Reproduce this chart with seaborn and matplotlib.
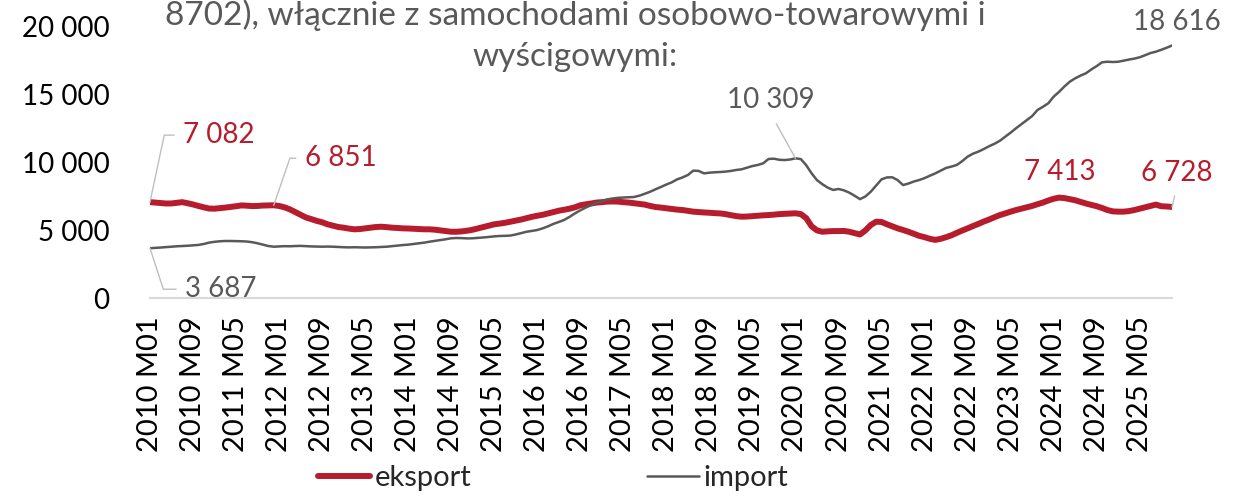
"""Eksport i import samochodów osobowych - miesięcznie, 2010-2025."""

import matplotlib

matplotlib.use("Agg")
import matplotlib.ticker as mticker
import pandas as pd
import seaborn as sns
from matplotlib import pyplot as plt

RED = "#B71C2C"
GREY = "#595959"
LEADER = "#BFBFBF"
AXIS = "#D9D9D9"

TICK_LABELS = [
    "2010 M01", "2010 M09", "2011 M05", "2012 M01", "2012 M09", "2013 M05",
    "2014 M01", "2014 M09", "2015 M05", "2016 M01", "2016 M09", "2017 M05",
    "2018 M01", "2018 M09", "2019 M05", "2020 M01", "2020 M09", "2021 M05",
    "2022 M01", "2022 M09", "2023 M05", "2024 M01", "2024 M09", "2025 M05",
]

# monthly values, 2010 M01 .. 2025 M11
EKSPORT = [
    7082, 7050, 7010, 6980, 6985, 7030, 7080, 7000, 6910, 6800, 6700, 6610,
    6600, 6640, 6680, 6730, 6780, 6840, 6820, 6790, 6800, 6830, 6840, 6851,
    6800, 6700, 6550, 6350, 6150, 5950, 5830, 5700, 5600, 5450, 5350, 5250,
    5200, 5130, 5080, 5100, 5150, 5200, 5250, 5270, 5240, 5200, 5180, 5150,
    5140, 5120, 5100, 5080, 5080, 5050, 5000, 4950, 4900, 4900, 4930, 4980,
    5050, 5150, 5250, 5350, 5450, 5500, 5560, 5640, 5720, 5800, 5900, 6000,
    6080, 6150, 6250, 6350, 6450, 6520, 6600, 6700, 6850, 6920, 6980, 7050,
    7080, 7120, 7130, 7120, 7080, 7050, 7000, 6950, 6900, 6800, 6720, 6680,
    6630, 6580, 6530, 6500, 6440, 6380, 6350, 6320, 6300, 6270, 6250, 6200,
    6120, 6050, 6010, 6020, 6050, 6080, 6110, 6130, 6160, 6200, 6220, 6240,
    6260, 6200, 5900, 5300, 5000, 4900, 4930, 4950, 4950, 4960, 4900, 4800,
    4700, 5000, 5400, 5640, 5620, 5450, 5300, 5150, 5030, 4900, 4750, 4600,
    4500, 4380, 4300, 4380, 4500, 4640, 4820, 4990, 5150, 5320, 5480, 5650,
    5800, 5970, 6130, 6250, 6380, 6500, 6600, 6700, 6800, 6930, 7050, 7200,
    7330, 7413, 7380, 7300, 7220, 7100, 6980, 6880, 6780, 6650, 6500, 6400,
    6380, 6380, 6420, 6500, 6600, 6700, 6800, 6900, 6780, 6760, 6728,
]

IMPORT = [
    3687, 3710, 3740, 3770, 3800, 3830, 3850, 3870, 3900, 3930, 4000, 4100,
    4160, 4200, 4220, 4220, 4210, 4200, 4180, 4130, 4050, 3950, 3850, 3800,
    3820, 3840, 3830, 3850, 3860, 3840, 3820, 3810, 3800, 3810, 3800, 3780,
    3760, 3750, 3760, 3750, 3740, 3750, 3760, 3780, 3800, 3840, 3880, 3920,
    3950, 4000, 4050, 4100, 4170, 4230, 4290, 4350, 4420, 4440, 4430, 4410,
    4420, 4450, 4480, 4520, 4560, 4590, 4600, 4620, 4700, 4800, 4900, 4960,
    5030, 5150, 5300, 5480, 5620, 5770, 6000, 6250, 6480, 6680, 6860, 7020,
    7150, 7280, 7350, 7400, 7420, 7440, 7460, 7560, 7700, 7850, 8030, 8200,
    8380, 8540, 8760, 8900, 9080, 9400, 9380, 9200, 9250, 9280, 9300, 9330,
    9380, 9450, 9500, 9620, 9740, 9820, 9940, 10260, 10280, 10200, 10180, 10220,
    10309, 10250, 9800, 9200, 8700, 8400, 8150, 7980, 8050, 7950, 7780, 7550,
    7300, 7500, 7850, 8300, 8760, 8900, 8910, 8700, 8340, 8450, 8600, 8710,
    8850, 9030, 9200, 9400, 9600, 9700, 9820, 10100, 10430, 10650, 10800, 10990,
    11200, 11380, 11600, 11900, 12200, 12520, 12820, 13120, 13420, 13870, 14100, 14360,
    14850, 15200, 15600, 15950, 16200, 16400, 16570, 16850, 17100, 17380, 17420, 17400,
    17420, 17500, 17580, 17650, 17750, 17900, 18060, 18160, 18300, 18450, 18616,
]

TITLE_LINES = ["8702), włącznie z samochodami osobowo-towarowymi i", "wyścigowymi:"]


def fmt(v, _pos=None):
    return f"{v:,.0f}".replace(",", " ")


def data_label(ax, series, i, dx, dy, color, ha="left", conn=None, relpos=(0, 0.5), shrink=4):
    arrow = None
    if conn is not None:
        arrow = dict(arrowstyle="-", color=LEADER, lw=1.0, connectionstyle=conn,
                     relpos=relpos, shrinkA=shrink, shrinkB=0)
    ax.annotate(fmt(series[i]), xy=(i, series[i]), xytext=(dx, dy),
                textcoords="offset pixels", ha=ha, va="center", fontsize=20,
                color=color, arrowprops=arrow)


sns.set_theme(style="white")
plt.rcParams["font.family"] = ["Lato", "DejaVu Sans"]

df = pd.DataFrame({"idx": range(len(EKSPORT)), "eksport": EKSPORT, "import": IMPORT})

W, H = 1245, 496
fig = plt.figure(figsize=(W / 100, H / 100), dpi=100)
fig.patch.set_facecolor("white")
ax = fig.add_axes([150 / W, 1 - 298.3 / H, (1172 - 150) / W, (298.3 - 26.7) / H])

sns.lineplot(data=df, x="idx", y="eksport", color=RED, linewidth=4.3, ax=ax,
             label="eksport", solid_capstyle="round")
sns.lineplot(data=df, x="idx", y="import", color=GREY, linewidth=1.8, ax=ax,
             label="import", solid_capstyle="round")

ax.set_xlim(0, len(EKSPORT) - 1)
ax.set_ylim(0, 20000)
ax.set_yticks(range(0, 20001, 5000))
ax.yaxis.set_major_formatter(mticker.FuncFormatter(fmt))
ax.set_xticks(range(0, 8 * len(TICK_LABELS), 8))
ax.set_xticklabels(TICK_LABELS, rotation=90, va="top", ha="center")
ax.set_xlabel("")
ax.set_ylabel("")
ax.tick_params(axis="both", length=0, labelsize=20, colors="black")
ax.tick_params(axis="x", labelsize=21, pad=13)
ax.tick_params(axis="y", pad=29)
ax.grid(False)
for side in ("top", "right", "left"):
    ax.spines[side].set_visible(False)
ax.spines["bottom"].set_color(AXIS)
ax.spines["bottom"].set_linewidth(1.5)

# data labels
data_label(ax, EKSPORT, 0, 33, 67, RED, conn="angle,angleA=0,angleB=78,rad=0")
data_label(ax, IMPORT, 0, 35, -41, GREY, conn="angle,angleA=0,angleB=108,rad=0")
data_label(ax, EKSPORT, 23, 31, 47, RED, conn="angle,angleA=0,angleB=71,rad=0")
data_label(ax, IMPORT, 120, -25, 58, GREY, ha="center", conn="arc3,rad=0",
           relpos=(0.5, 0), shrink=6)
last = len(EKSPORT) - 1
data_label(ax, IMPORT, last, 5, 23, GREY, ha="center")
data_label(ax, EKSPORT, 169, 1, 26, RED, ha="center")
data_label(ax, EKSPORT, last, 5, 34, RED, ha="center", conn="arc3,rad=0",
           relpos=(0.5, 0), shrink=5)

# title: upper part of the caption lies above the chart area
fig.text(575 / W, 1 - 25 / H, TITLE_LINES[0], ha="center", va="baseline",
         fontsize=24, color=GREY)
fig.text(575 / W, 1 - 66 / H, TITLE_LINES[1], ha="center", va="baseline",
         fontsize=24, color=GREY)

handles, labels = ax.get_legend_handles_labels()
ax.get_legend().remove()
fig.legend(handles, labels, loc="center", bbox_to_anchor=(553 / W, 1 - 478 / H),
           ncol=2, frameon=False, fontsize=21, handlelength=1.8,
           handletextpad=0.15, columnspacing=6.0)

fig.savefig("out.png", dpi=100)
